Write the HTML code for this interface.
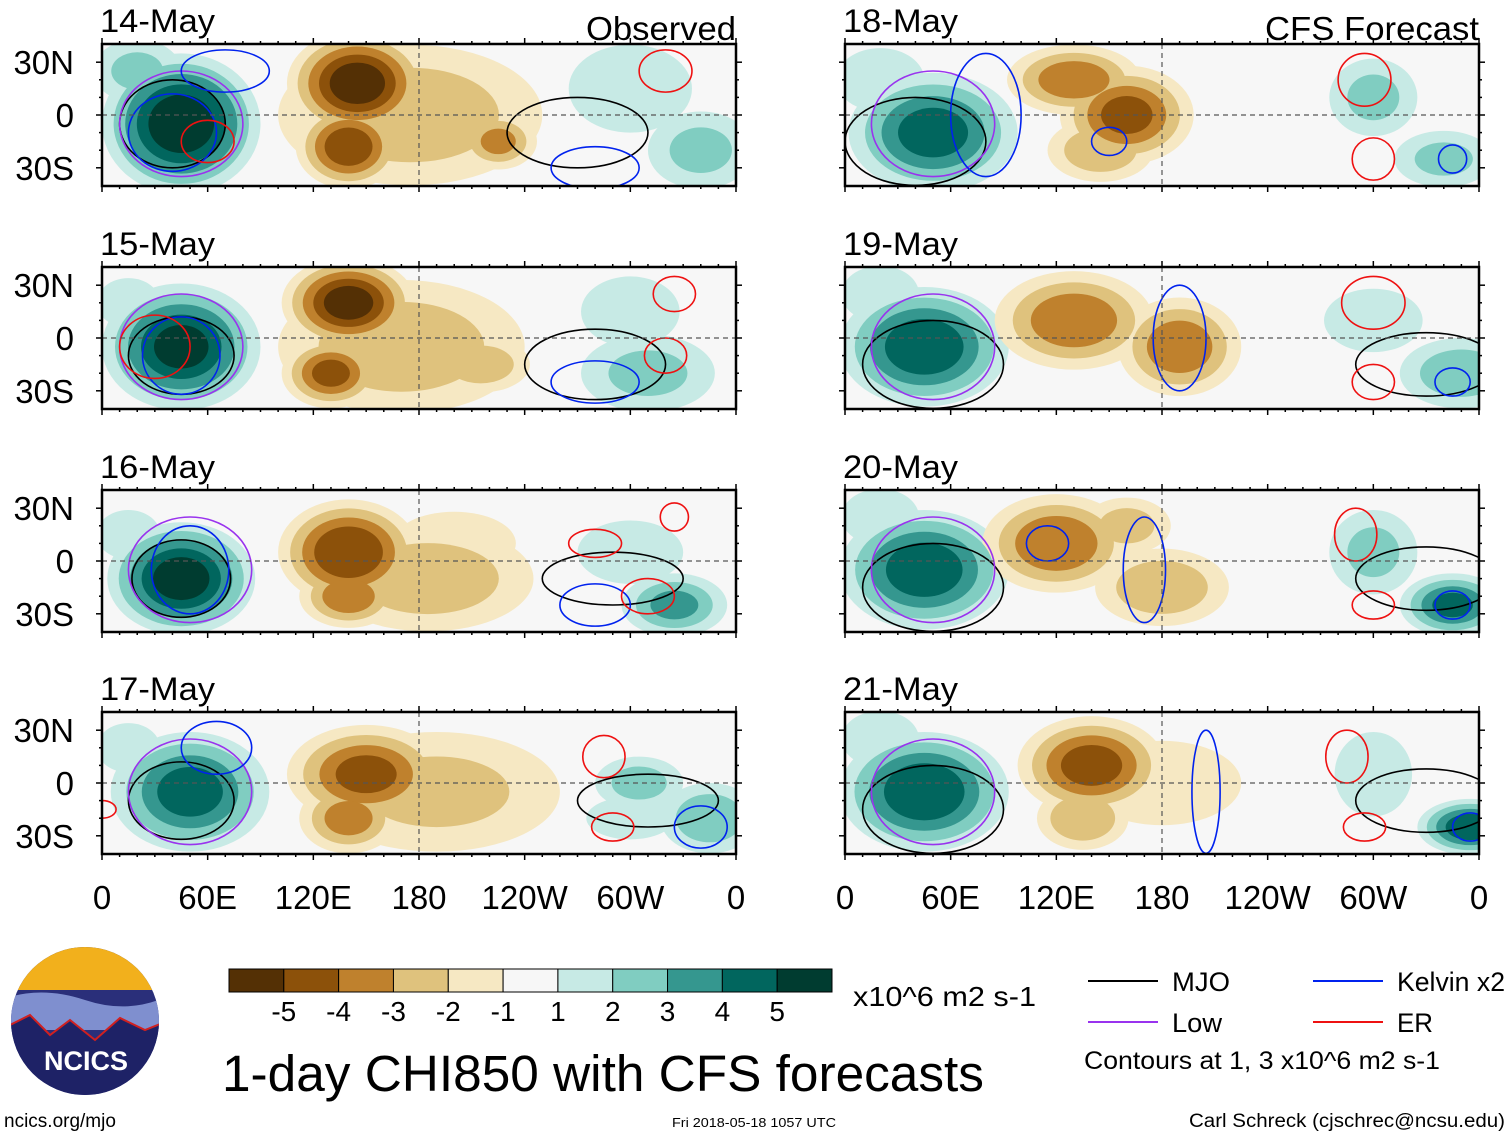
<!DOCTYPE html>
<html><head><meta charset="utf-8"><style>
body{margin:0;background:#fff;width:1510px;height:1137px;overflow:hidden;font-family:"Liberation Sans",sans-serif;}
svg{position:absolute;left:0;top:0}
</style></head><body>
<svg id="s" width="1510" height="1137"></svg>
<script>
const panelTitles=["14-May","15-May","16-May","17-May","18-May","19-May","20-May","21-May"];
const lonTicks=["0","60E","120E","180","120W","60W","0"];
const latTicks=["30N","0","30S"];
const cbarLabels=["-5","-4","-3","-2","-1","1","2","3","4","5"];
const cbarColors=["#543005","#8c510a","#bf812d","#dfc27d","#f6e8c3","#f7f7f7","#c7eae5","#80cdc1","#35978f","#01665e","#003c30"];
// blobs: [lon, lat, value, lonRadius, latRadius]
const blobs0=[[45,-5,5.6,45,40],[145,18,-5.4,40,30],[140,-18,-4.5,30,24],[175,0,-2.5,75,40],[225,-15,-3,22,16],[300,15,1.5,35,25],[340,-20,2,30,22],[20,25,2,25,18]];
const blobs1=[[45,-5,5,45,36],[140,20,-5.2,38,26],[130,-20,-4,28,20],[170,-5,-2.5,70,38],[215,-15,-2.5,28,16],[310,-20,2,38,22],[300,15,1.5,28,20],[15,20,1.5,18,14]];
const blobs2=[[45,-10,5.3,42,32],[140,5,-4.8,40,30],[140,-20,-3.5,28,18],[185,-10,-2.5,60,30],[200,10,-1.8,35,18],[325,-25,3,30,18],[300,5,1.5,30,18],[15,15,1.5,18,14]];
const blobs3=[[50,-5,4.2,45,34],[150,5,-4,45,28],[140,-20,-3.2,28,20],[190,-5,-2,70,34],[305,0,2.2,25,15],[345,-20,2.6,28,20],[300,-20,1.5,25,12],[15,20,1.5,18,14]];
const blobs4=[[50,-10,4.2,48,34],[130,20,-3.5,38,20],[160,0,-4,38,28],[145,-20,-2.6,30,18],[300,10,2,25,22],[340,-25,2,28,16],[20,20,1.5,25,18]];
const blobs5=[[45,-5,4.6,48,34],[130,10,-3.6,45,28],[190,-5,-3.5,35,28],[300,10,1.8,28,18],[350,-20,2.5,35,20],[20,25,1.5,22,16]];
const blobs6=[[45,-5,4.5,48,34],[120,10,-3.7,42,28],[160,20,-2.2,25,16],[180,-15,-2.6,38,22],[300,5,2,25,24],[345,-25,4,30,18],[20,25,1.5,22,16]];
const blobs7=[[45,-5,4.7,48,34],[140,10,-4.2,42,28],[135,-20,-2.8,26,18],[180,0,-1.8,45,24],[300,5,1.8,22,24],[355,-25,4.6,30,16],[20,25,1.5,22,16]];
const allBlobs=[blobs0,blobs1,blobs2,blobs3,blobs4,blobs5,blobs6,blobs7];
// contours: [lon, lat, lonRadius, latRadius, type]
const cont0=[[40,-5,30,25,"mjo"],[270,-10,40,20,"mjo"],[45,-5,35,30,"low"],[40,-10,25,22,"kelvin"],[70,25,25,12,"kelvin"],[280,-30,25,12,"kelvin"],[60,-15,15,12,"er"],[320,25,15,12,"er"]];
const cont1=[[45,-10,30,22,"mjo"],[280,-15,40,20,"mjo"],[45,-5,35,30,"low"],[45,-10,22,22,"kelvin"],[280,-25,25,12,"kelvin"],[30,-5,20,18,"er"],[320,-10,12,10,"er"],[325,25,12,10,"er"]];
const cont2=[[45,-10,28,22,"mjo"],[290,-10,40,15,"mjo"],[50,-5,35,30,"low"],[50,-5,22,25,"kelvin"],[280,-25,20,12,"kelvin"],[280,10,15,8,"er"],[310,-20,15,10,"er"],[325,25,8,8,"er"]];
const cont3=[[45,-10,30,22,"mjo"],[310,-10,40,15,"mjo"],[50,-5,35,30,"low"],[65,20,20,15,"kelvin"],[340,-25,15,12,"kelvin"],[285,15,12,12,"er"],[290,-25,12,8,"er"],[0,-15,8,5,"er"]];
const cont4=[[40,-15,40,25,"mjo"],[50,-5,35,30,"low"],[80,0,20,35,"kelvin"],[150,-15,10,8,"kelvin"],[295,20,15,15,"er"],[300,-25,12,12,"er"],[345,-25,8,8,"kelvin"]];
const cont5=[[50,-15,40,25,"mjo"],[330,-15,40,18,"mjo"],[50,-5,35,30,"low"],[190,0,15,30,"kelvin"],[345,-25,10,8,"kelvin"],[300,20,18,15,"er"],[300,-25,12,10,"er"]];
const cont6=[[50,-15,40,25,"mjo"],[330,-10,40,18,"mjo"],[50,-5,35,30,"low"],[170,-5,12,30,"kelvin"],[345,-25,10,8,"kelvin"],[290,15,12,15,"er"],[300,-25,12,8,"er"],[115,10,12,10,"kelvin"]];
const cont7=[[50,-15,40,25,"mjo"],[330,-10,40,18,"mjo"],[50,-5,35,30,"low"],[205,-5,8,35,"kelvin"],[355,-25,10,8,"kelvin"],[285,15,12,15,"er"],[295,-25,12,8,"er"]];
const allConts=[cont0,cont1,cont2,cont3,cont4,cont5,cont6,cont7];
const NS="http://www.w3.org/2000/svg";
const svg=document.getElementById("s");
function mk(tag,attrs,parent){const e=document.createElementNS(NS,tag);for(const k in attrs)e.setAttribute(k,attrs[k]);(parent||svg).appendChild(e);return e;}
const contColors={mjo:"#000",low:"#9933ee",kelvin:"#0022ee",er:"#ee1111"};
const tops=[44,267,490,712];
for(let p=0;p<8;p++){
  const col=p<4?0:1, row=p%4;
  const x0=col?845:102, W=634, y0=tops[row], H=142;
  const xS=lon=>x0+lon/360*W, yS=lat=>y0+H/2-lat*1.76;
  const g=mk("g",{});
  
  
  const cid="c"+p;
  const cp=mk("clipPath",{id:cid},g);mk("rect",{x:x0,y:y0,width:W,height:H},cp);
  const inner=mk("g",{"clip-path":"url(#"+cid+")"},g);
  mk("rect",{x:x0,y:y0,width:W,height:H,fill:"#f7f7f7"},inner);
  for(let k=1;k<=5;k++){
    allBlobs[p].forEach(b=>{
      const [lon,lat,v,rl,ra]=b; const s=Math.sign(v);
      if(Math.floor(Math.abs(v))<k) return;
      const f=1-0.82*(k-1)/Math.abs(v);
      const e=mk("ellipse",{cx:xS(lon),cy:yS(lat),rx:rl*f/360*W,ry:ra*f*1.76,fill:cbarColors[5+s*k]},inner);
      
      
    });
  }
  allConts[p].forEach(c=>{
    const e=mk("ellipse",{cx:xS(c[0]),cy:yS(c[1]),rx:c[2]/360*W,ry:c[3]*1.76,fill:"none",stroke:contColors[c[4]],"stroke-width":1.6},inner);
    
    
  });
  mk("line",{x1:x0,x2:x0+W,y1:yS(0),y2:yS(0),stroke:"#555","stroke-dasharray":"5,4","stroke-width":1.2},inner);
  mk("line",{x1:xS(180),x2:xS(180),y1:y0,y2:y0+H,stroke:"#555","stroke-dasharray":"5,4","stroke-width":1.2},inner);
  mk("rect",{x:x0,y:y0,width:W,height:H,fill:"none",stroke:"#000","stroke-width":2.5},g);
  for(let l=0;l<=360;l+=10){const big=l%60==0;
    mk("line",{x1:xS(l),x2:xS(l),y1:y0-(big?6:3),y2:y0,stroke:"#000","stroke-width":1.5},g);
    mk("line",{x1:xS(l),x2:xS(l),y1:y0+H,y2:y0+H+(big?6:3),stroke:"#000","stroke-width":1.5},g);}
  for(let la=-30;la<=30;la+=10){const big=la%30==0;
    mk("line",{x1:x0-(big?6:3),x2:x0,y1:yS(la),y2:yS(la),stroke:"#000","stroke-width":1.5},g);
    mk("line",{x1:x0+W,x2:x0+W+(big?6:3),y1:yS(la),y2:yS(la),stroke:"#000","stroke-width":1.5},g);}
  const t=mk("text",{x:x0-2,y:y0-12,"font-size":32,fill:"#000",textLength:115,lengthAdjust:"spacingAndGlyphs"},g);t.textContent=panelTitles[p];
  
  if(row==0){const h=mk("text",{x:x0+W,y:y0-4,"font-size":33,"text-anchor":"end",textLength:col?214:150,lengthAdjust:"spacingAndGlyphs"},g);h.textContent=col?"CFS Forecast":"Observed";
    }
  if(col==0){[30,0,-30].forEach((la,i)=>{const tt=mk("text",{x:74,y:yS(la)+12,"font-size":33,"text-anchor":"end"},g);tt.textContent=latTicks[i];
    });}
  if(row==3){lonTicks.forEach((L,i)=>{const tt=mk("text",{x:xS(i*60),y:909,"font-size":33,"text-anchor":"middle"},g);tt.textContent=L;
    });}
}
const cb=mk("g",{});
const cbw=603/11;
cbarColors.forEach((c,i)=>mk("rect",{x:229+i*cbw,y:969,width:cbw,height:23,fill:c,stroke:"#000","stroke-width":1},cb));
cbarLabels.forEach((L,i)=>{const t=mk("text",{x:229+(i+1)*cbw,y:1021,"font-size":28,"text-anchor":"middle"},cb);t.textContent=L;});
function txt(x,y,s,str,anchor,name,len){const a={x:x,y:y,"font-size":s,"text-anchor":anchor||"start"};if(len){a.textLength=len;a.lengthAdjust="spacingAndGlyphs";}const t=mk("text",a);t.textContent=str;}
txt(853,1006,28,"x10^6 m2 s-1","start","colorbar-units",183);
txt(222,1091,51,"1-day CHI850 with CFS forecasts","start","chart-title",762);
txt(4,1127,19,"ncics.org/mjo","start","source-url");
txt(754,1127,13,"Fri 2018-05-18 1057 UTC","middle","timestamp",164);
txt(1505,1127,19,"Carl Schreck (cjschrec@ncsu.edu)","end","author",316);
txt(1084,1069,25,"Contours at 1, 3 x10^6 m2 s-1","start","contour-note",356);
[[1088,981,"#000","MJO",58],[1313,981,"#0022ee","Kelvin x2",108],[1088,1022,"#9933ee","Low",50],[1313,1022,"#ee1111","ER",36]].forEach(l=>{
  const g=mk("g",{});
  mk("line",{x1:l[0],x2:l[0]+70,y1:l[1],y2:l[1],stroke:l[2],"stroke-width":2},g);
  const t=mk("text",{x:l[0]+84,y:l[1]+10,"font-size":27,textLength:l[4],lengthAdjust:"spacingAndGlyphs"},g);t.textContent=l[3];});
const lg=mk("g",{});
mk("clipPath",{id:"lc"},lg);mk("circle",{cx:85,cy:1021,r:74},document.getElementById("lc"));
const li=mk("g",{"clip-path":"url(#lc)"},lg);
mk("rect",{x:0,y:940,width:170,height:160,fill:"#2a2f7a"},li);
mk("rect",{x:0,y:940,width:170,height:50,fill:"#f2b01c"},li);
mk("path",{d:"M0 1000 Q40 985 85 1000 T170 995 L170 1030 L0 1030Z",fill:"#7f8fcf"},li);
mk("path",{d:"M0 1030 L30 1015 L50 1035 L70 1020 L95 1040 L120 1018 L145 1030 L170 1020 L170 1100 L0 1100Z",fill:"#1e2266",stroke:"#d02020","stroke-width":2},li);
const nt=mk("text",{x:86,y:1070,"font-size":27,"font-weight":"bold",fill:"#fff","text-anchor":"middle"},lg);nt.textContent="NCICS";
</script>
</body></html>
